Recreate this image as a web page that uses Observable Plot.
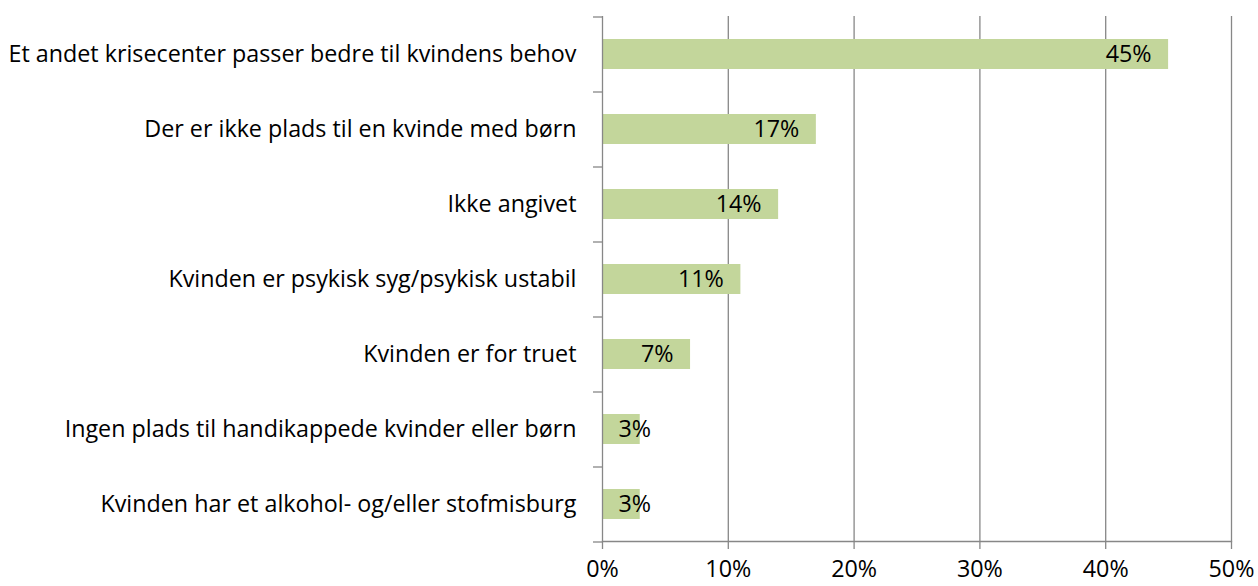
<!DOCTYPE html>
<html>
<head>
<meta charset="utf-8">
<script src="https://cdn.jsdelivr.net/npm/d3@7"></script>
<script src="https://cdn.jsdelivr.net/npm/@observablehq/plot@0.6"></script>
<style>
  html, body { margin: 0; padding: 0; background: #fff; }
  #chart svg { display: block; }
</style>
</head>
<body>
<div id="chart"></div>
<script>
const categories = [
  "Et andet krisecenter passer bedre til kvindens behov",
  "Der er ikke plads til en kvinde med børn",
  "Ikke angivet",
  "Kvinden er psykisk syg/psykisk ustabil",
  "Kvinden er for truet",
  "Ingen plads til handikappede kvinder eller børn",
  "Kvinden har et alkohol- og/eller stofmisburg"
];
const values = [45, 17, 14, 11, 7, 3, 3];
const xTicks = [0, 10, 20, 30, 40, 50];

const data = categories.map((c, i) => ({category: c, value: values[i]}));
const FONT = "'Open Sans', sans-serif";
const FS = 23.3;
const grid = "#878787";

const chart = Plot.plot({
  width: 1258,
  height: 586,
  marginLeft: 602,
  marginRight: 27,
  marginTop: 16,
  marginBottom: 45,
  style: {fontFamily: FONT, fontSize: FS + "px", color: "#000", background: "#fff"},
  x: {domain: [0, 50], ticks: xTicks, label: null},
  y: {domain: categories, paddingInner: 0.6, paddingOuter: 0.3, label: null},
  marks: [
    Plot.gridX(xTicks.slice(1), {stroke: grid, strokeOpacity: 1, strokeWidth: 1.3}),
    Plot.barX(data, {x: "value", y: "category", fill: "#C3D69B"}),
    Plot.ruleX([0], {stroke: grid, strokeWidth: 1.3}),
    Plot.frame({anchor: "bottom", stroke: grid, strokeWidth: 1.3}),
    Plot.axisY({tickSize: 9, tickFormat: null, label: null, dy: -37.5, stroke: grid, strokeWidth: 1.3}),
    Plot.axisY({ticks: [categories[categories.length - 1]], tickSize: 9, tickFormat: null, label: null, dy: 37.5, stroke: grid, strokeWidth: 1.3}),
    Plot.axisY({tickSize: 0, tickPadding: 26, label: null, fontSize: FS, fill: "#000"}),
    Plot.axisX({ticks: xTicks, tickSize: 8, tickPadding: 11, label: null, tickFormat: d => d + "%", stroke: grid, strokeWidth: 1.3, fontSize: FS, fill: "#000"}),
    Plot.text(data.filter(d => d.value >= 5), {x: "value", y: "category", text: d => d.value + "%", textAnchor: "end", dx: -17, fontSize: FS, fill: "#000"}),
    Plot.text(data.filter(d => d.value < 5), {x: 0, y: "category", text: d => d.value + "%", textAnchor: "start", dx: 16, fontSize: FS, fill: "#000"})
  ]
});
document.getElementById("chart").appendChild(chart);
</script>
</body>
</html>
